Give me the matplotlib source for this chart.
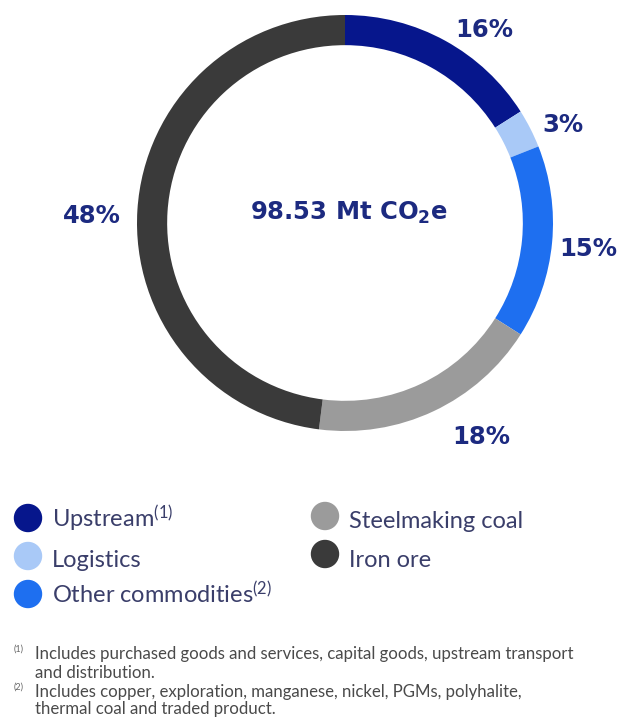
import matplotlib
matplotlib.use("Agg")
import matplotlib.pyplot as plt
from matplotlib.patches import Ellipse

plt.rcParams['font.family'] = ['Lato', 'DejaVu Sans']
plt.rcParams['mathtext.default'] = 'regular'

# data
categories = ['Upstream', 'Logistics', 'Other commodities', 'Steelmaking coal', 'Iron ore']
legend_labels = ['Upstream$^{(1)}$', 'Logistics', 'Other commodities$^{(2)}$',
                 'Steelmaking coal', 'Iron ore']
shares = [16, 3, 15, 18, 48]
colors = ['#06168c', '#a9c9f7', '#1e6ff0', '#9b9b9b', '#3a3a3a']
total_label = '98.53 Mt CO$_2$e'
note_marks = ['(1)', '(2)']
note_lines = [
    ['Includes purchased goods and services, capital goods, upstream transport',
     'and distribution.'],
    ['Includes copper, exploration, manganese, nickel, PGMs, polyhalite,',
     'thermal coal and traded product.'],
]

W, H = 621, 717
navy = '#1c2a80'
fig = plt.figure(figsize=(W / 100, H / 100), dpi=100)

def fx(x):
    return x / W

def fy(y):
    return 1 - y / H

# donut
cx, cy, r = 345, 223, 208
ax = fig.add_axes([fx(cx - r), fy(cy + r), 2 * r / W, 2 * r / H])
ax.pie(shares, colors=colors, startangle=90, counterclock=False,
       wedgeprops=dict(width=0.145, edgecolor='none'))
ax.set_xlim(-1, 1)
ax.set_ylim(-1, 1)
ax.set_aspect('equal')
ax.axis('off')

# percentage labels (baseline positions)
label_pos = [(484, 37), (563, 132), (588, 256), (481, 444), (92, 223)]
for (x, y), s in zip(label_pos, shares):
    fig.text(fx(x), fy(y), f'{s}%', ha='center', va='baseline',
             fontsize=17.5, fontweight='bold', color=navy, family='DejaVu Sans')

fig.text(fx(349), fy(220), total_label, ha='center', va='baseline',
         fontsize=17.5, fontweight='bold', color=navy, family='DejaVu Sans')

# legend
dot_pos = [(28, 518), (28, 556), (28, 594), (325, 516), (325, 554)]
text_base = [528, 567, 604, 528, 567]
for (x, y), yb, lab, c in zip(dot_pos, text_base, legend_labels, colors):
    fig.patches.append(Ellipse((fx(x), fy(y)), 27 / W, 27 / H,
                               transform=fig.transFigure, color=c))
    fig.text(fx(x + 24), fy(yb), lab, ha='left', va='baseline',
             fontsize=17, color='#3a3e6a')

# footnotes
line_y = [[654, 673], [692, 709]]
for mark, lines, ys in zip(note_marks, note_lines, line_y):
    fig.text(fx(14), fy(ys[0] - 5), mark, ha='left', va='center',
             fontsize=6.5, color='#666666')
    for txt, y in zip(lines, ys):
        fig.text(fx(35), fy(y), txt, ha='left', va='center', fontsize=12.1,
                 color='#4a4a4a')

fig.savefig('out.png', dpi=100, facecolor='white')
